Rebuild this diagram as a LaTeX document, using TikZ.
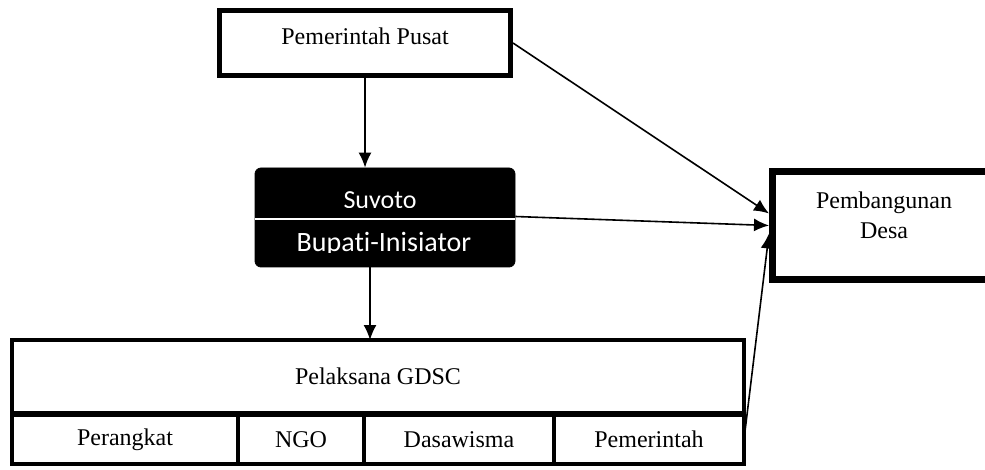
\documentclass[tikz,border=0pt]{standalone}
\usepackage{fontspec}
\setmainfont{Liberation Serif}
\newfontfamily\calibri[Ligatures=NoCommon]{Carlito}
\usetikzlibrary{arrows.meta,positioning}

\begin{document}
\begin{tikzpicture}[x=0.5pt, y=-0.5pt,
    every node/.style={font=\rmfamily\fontsize{12}{15}\selectfont},
    kotak/.style={draw, line width=2.5pt, inner sep=0pt},
    sel/.style={draw, line width=2.2pt, inner sep=0pt, outer sep=0pt, minimum height=24.5pt},
    panah/.style={-{Latex[length=7.5pt,width=6.5pt]}, line width=0.8pt}]
    \useasboundingbox (0,0) rectangle (985,470);

    % pusat
    \node[kotak, minimum width=145.5pt, minimum height=32.5pt] (pusat) at (365,43) {};
    \node (tpusat) at (365,36) {Pemerintah Pusat};

    % bupati (kotak hitam)
    \node[draw, fill=black, rounded corners=3pt, minimum width=130pt, minimum height=49.5pt] (tokoh) at (385,217.5) {};
    \draw[white, line width=1pt] (tokoh.west |- 0,219) -- (tokoh.east |- 0,219);
    \begin{scope}
        \clip (tokoh.north west) rectangle (tokoh.east |- 0,208);
        \node[white, anchor=base, font=\calibri\fontsize{13}{15}\selectfont] (nama) at (380,209) {Suyoto};
    \end{scope}
    \begin{scope}
        \clip (tokoh.west |- 0,221) rectangle (tokoh.east |- 0,253);
        \node[white, anchor=base, font=\calibri\fontsize{14}{16}\selectfont] (peran) at (384,252) {Bupati-Inisiator};
    \end{scope}

    % pembangunan desa
    \node[kotak, line width=3.5pt, minimum width=112pt, minimum height=54pt] (desa) at (884.5,225.5) {};
    \node[align=center] (tdesa) at (884,215) {Pembangunan\\Desa};

    % pelaksana
    \node[sel, minimum width=366pt, minimum height=36.5pt] (gdsc) at (378,376.5) {Pelaksana GDSC};
    \foreach \i/\x/\w/\teks in {1/125/113/Perangkat, 2/301/63/NGO, 3/459/95/Dasawisma, 4/649/95/Pemerintah} {
        \node[sel, minimum width=\w pt] (sel\i) at (\x,439.5) {\teks};
    }

    % panah
    \draw[panah] (pusat.south) -- (pusat.south |- tokoh.north);
    \draw[panah] ([xshift=-7.5pt]tokoh.south) -- ([xshift=-7.5pt]tokoh.south |- gdsc.north);
    \draw[panah] (pusat.east) -- ([yshift=6pt]desa.west);
    \draw[panah] ([yshift=0.5pt]tokoh.east) -- (desa.west);
    \draw[panah] (sel4.east) -- ([yshift=-4pt]desa.west);
\end{tikzpicture}
\end{document}
